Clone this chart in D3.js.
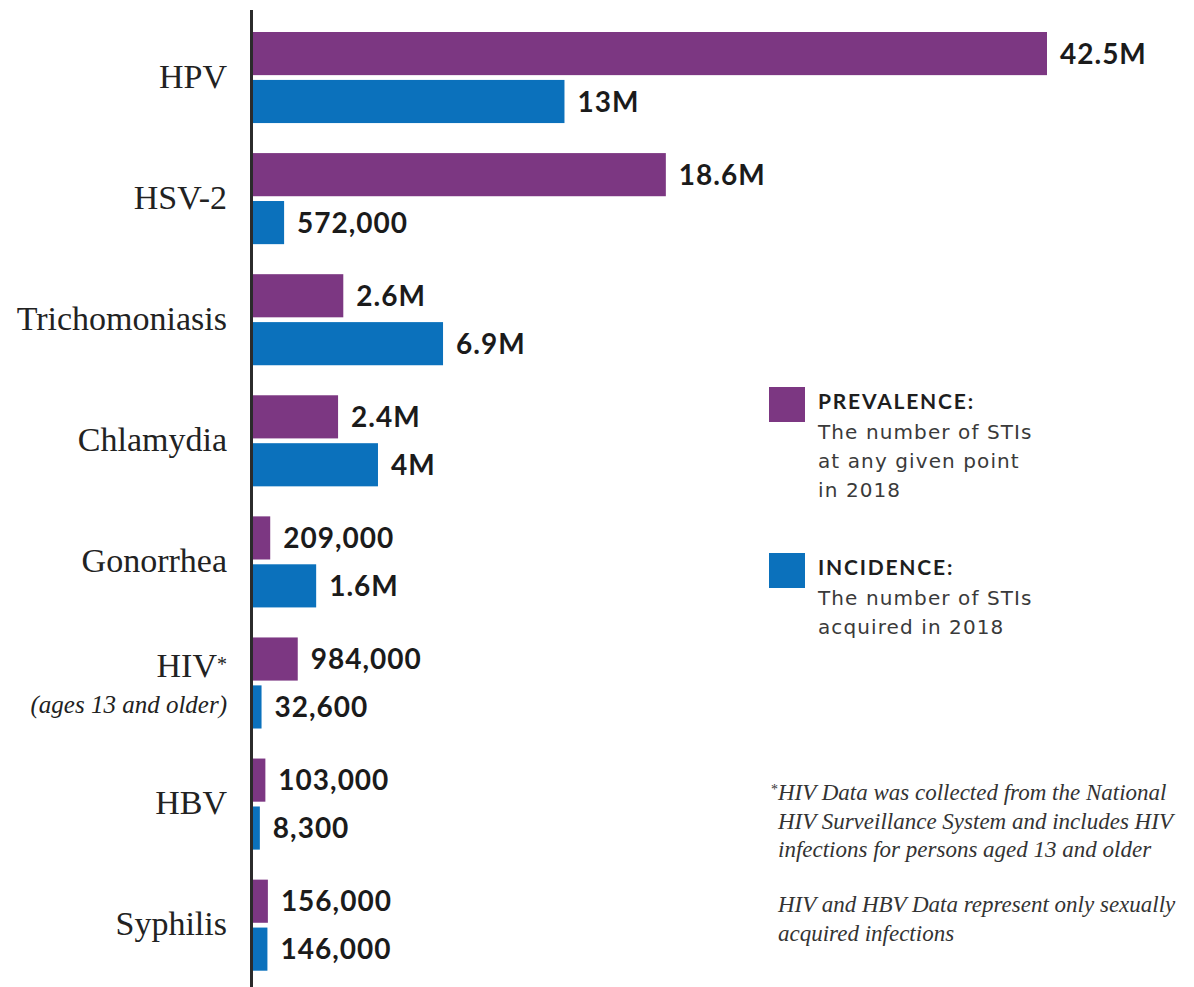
<!DOCTYPE html>
<html>
<head>
<meta charset="utf-8">
<script src="https://cdn.jsdelivr.net/npm/d3@7"></script>
<style>
  html, body { margin: 0; padding: 0; background: #fff; }
  svg { display: block; }
</style>
</head>
<body>
<div id="chart"></div>
<script>
// ---- data ----
const categories = ["HPV", "HSV-2", "Trichomoniasis", "Chlamydia", "Gonorrhea", "HIV", "HBV", "Syphilis"];
const categoryMarks = ["", "", "", "", "", "*", "", ""];
const subLabels = ["", "", "", "", "", "(ages 13 and older)", "", ""];
const prevalence = [42500000, 18600000, 2600000, 2400000, 209000, 984000, 103000, 156000];
const incidence  = [13000000, 572000, 6900000, 4000000, 1600000, 32600, 8300, 146000];
const seriesKeys = ["prevalence", "incidence"];
const seriesTitles = ["PREVALENCE:", "INCIDENCE:"];
const seriesDescriptions = [
  ["The number of STIs", "at any given point", "in 2018"],
  ["The number of STIs", "acquired in 2018"]
];
const footnoteBlocks = [
  ["HIV Data was collected from the National", "HIV Surveillance System and includes HIV", "infections for persons aged 13 and older"],
  ["HIV and HBV Data represent only sexually", "acquired infections"]
];
const footnoteMarks = ["*", ""];

// ---- layout ----
const W = 1194, H = 987;
const axisX = 252;
const colors = { prevalence: "#7c3782", incidence: "#0b71bc" };

const svg = d3.select("#chart").append("svg")
  .attr("width", W).attr("height", H);
svg.append("rect").attr("width", W).attr("height", H).attr("fill", "#fff");

const rows = categories.map((c, i) => ({
  cat: c, mark: categoryMarks[i], sub: subLabels[i],
  prevalence: prevalence[i], incidence: incidence[i]
}));

const y = d3.scaleBand().domain(categories).range([32, 970.7]).paddingInner(0.248).paddingOuter(0);
const ySub = d3.scaleBand().domain(seriesKeys).range([0, y.bandwidth()]).paddingInner(0.1);
const x = d3.scalePow().exponent(0.8)
  .domain([0, d3.max(prevalence)])
  .range([axisX + 7, axisX + 795]);

const fmt = v => v >= 1e6 ? (+(v / 1e6).toFixed(1)) + "M" : d3.format(",")(v);

// bars
const groups = svg.append("g").selectAll("g").data(rows).join("g")
  .attr("transform", d => `translate(0,${y(d.cat)})`);

groups.selectAll("rect").data(d => seriesKeys.map(k => ({ key: k, value: d[k] })))
  .join("rect")
  .attr("x", axisX)
  .attr("y", d => ySub(d.key))
  .attr("width", d => x(d.value) - axisX)
  .attr("height", ySub.bandwidth())
  .attr("fill", d => colors[d.key]);

groups.selectAll("text.val").data(d => seriesKeys.map(k => ({ key: k, value: d[k] })))
  .join("text")
  .attr("class", "val")
  .attr("x", d => x(d.value) + 13)
  .attr("y", d => ySub(d.key) + ySub.bandwidth() / 2)
  .attr("dy", "0.36em")
  .attr("font-family", "Lato, 'DejaVu Sans', sans-serif")
  .attr("font-weight", 700)
  .attr("font-size", 28)
  .attr("letter-spacing", 1)
  .attr("fill", "#1b1b1b")
  .text(d => fmt(d.value));

// axis line
svg.append("line")
  .attr("x1", axisX - 0.5).attr("x2", axisX - 0.5)
  .attr("y1", 10).attr("y2", H)
  .attr("stroke", "#2b2b2b").attr("stroke-width", 3);

// category labels
const labelX = 227;
const serif = "'Liberation Serif', 'Times New Roman', serif";
rows.forEach(d => {
  const cy = y(d.cat) + y.bandwidth() / 2;
  const t = svg.append("text")
    .attr("x", labelX).attr("y", d.sub ? cy - 6 : cy + 10)
    .attr("text-anchor", "end")
    .attr("font-family", serif)
    .attr("font-size", 34).attr("fill", "#222");
  t.append("tspan").text(d.cat);
  if (d.mark) {
    t.append("tspan").attr("font-size", 20).attr("dy", -6).text(d.mark);
  }
  if (d.sub) {
    svg.append("text")
      .attr("x", labelX).attr("y", cy + 30)
      .attr("text-anchor", "end")
      .attr("font-family", serif)
      .attr("font-style", "italic")
      .attr("font-size", 25).attr("fill", "#222")
      .text(d.sub);
  }
});

// legend
const legendTops = [387, 553];
seriesKeys.forEach((k, i) => {
  const g = svg.append("g").attr("transform", `translate(769,${legendTops[i]})`);
  g.append("rect").attr("width", 36).attr("height", 35).attr("fill", colors[k]);
  g.append("text")
    .attr("x", 49).attr("y", 22)
    .attr("font-family", "Lato, 'DejaVu Sans', sans-serif")
    .attr("font-weight", 700).attr("font-size", 21)
    .attr("letter-spacing", 1.8)
    .attr("fill", "#1e1e1e")
    .text(seriesTitles[i]);
  seriesDescriptions[i].forEach((line, j) => {
    g.append("text")
      .attr("x", 49).attr("y", 52 + j * 29)
      .attr("font-family", "'DejaVu Sans', sans-serif")
      .attr("font-size", 20)
      .attr("letter-spacing", 1.1)
      .attr("fill", "#3a3a3a")
      .text(line);
  });
});

// footnotes
const footTops = [800, 912];
footnoteBlocks.forEach((block, b) => {
  if (footnoteMarks[b]) {
    svg.append("text")
      .attr("x", 771).attr("y", footTops[b] - 6)
      .attr("font-family", serif)
      .attr("font-size", 14)
      .attr("fill", "#333")
      .text(footnoteMarks[b]);
  }
  block.forEach((line, j) => {
    svg.append("text")
      .attr("x", 778).attr("y", footTops[b] + j * 28.5)
      .attr("font-family", serif)
      .attr("font-style", "italic")
      .attr("font-size", 23)
      .attr("fill", "#333")
      .text(line);
  });
});
</script>
</body>
</html>
